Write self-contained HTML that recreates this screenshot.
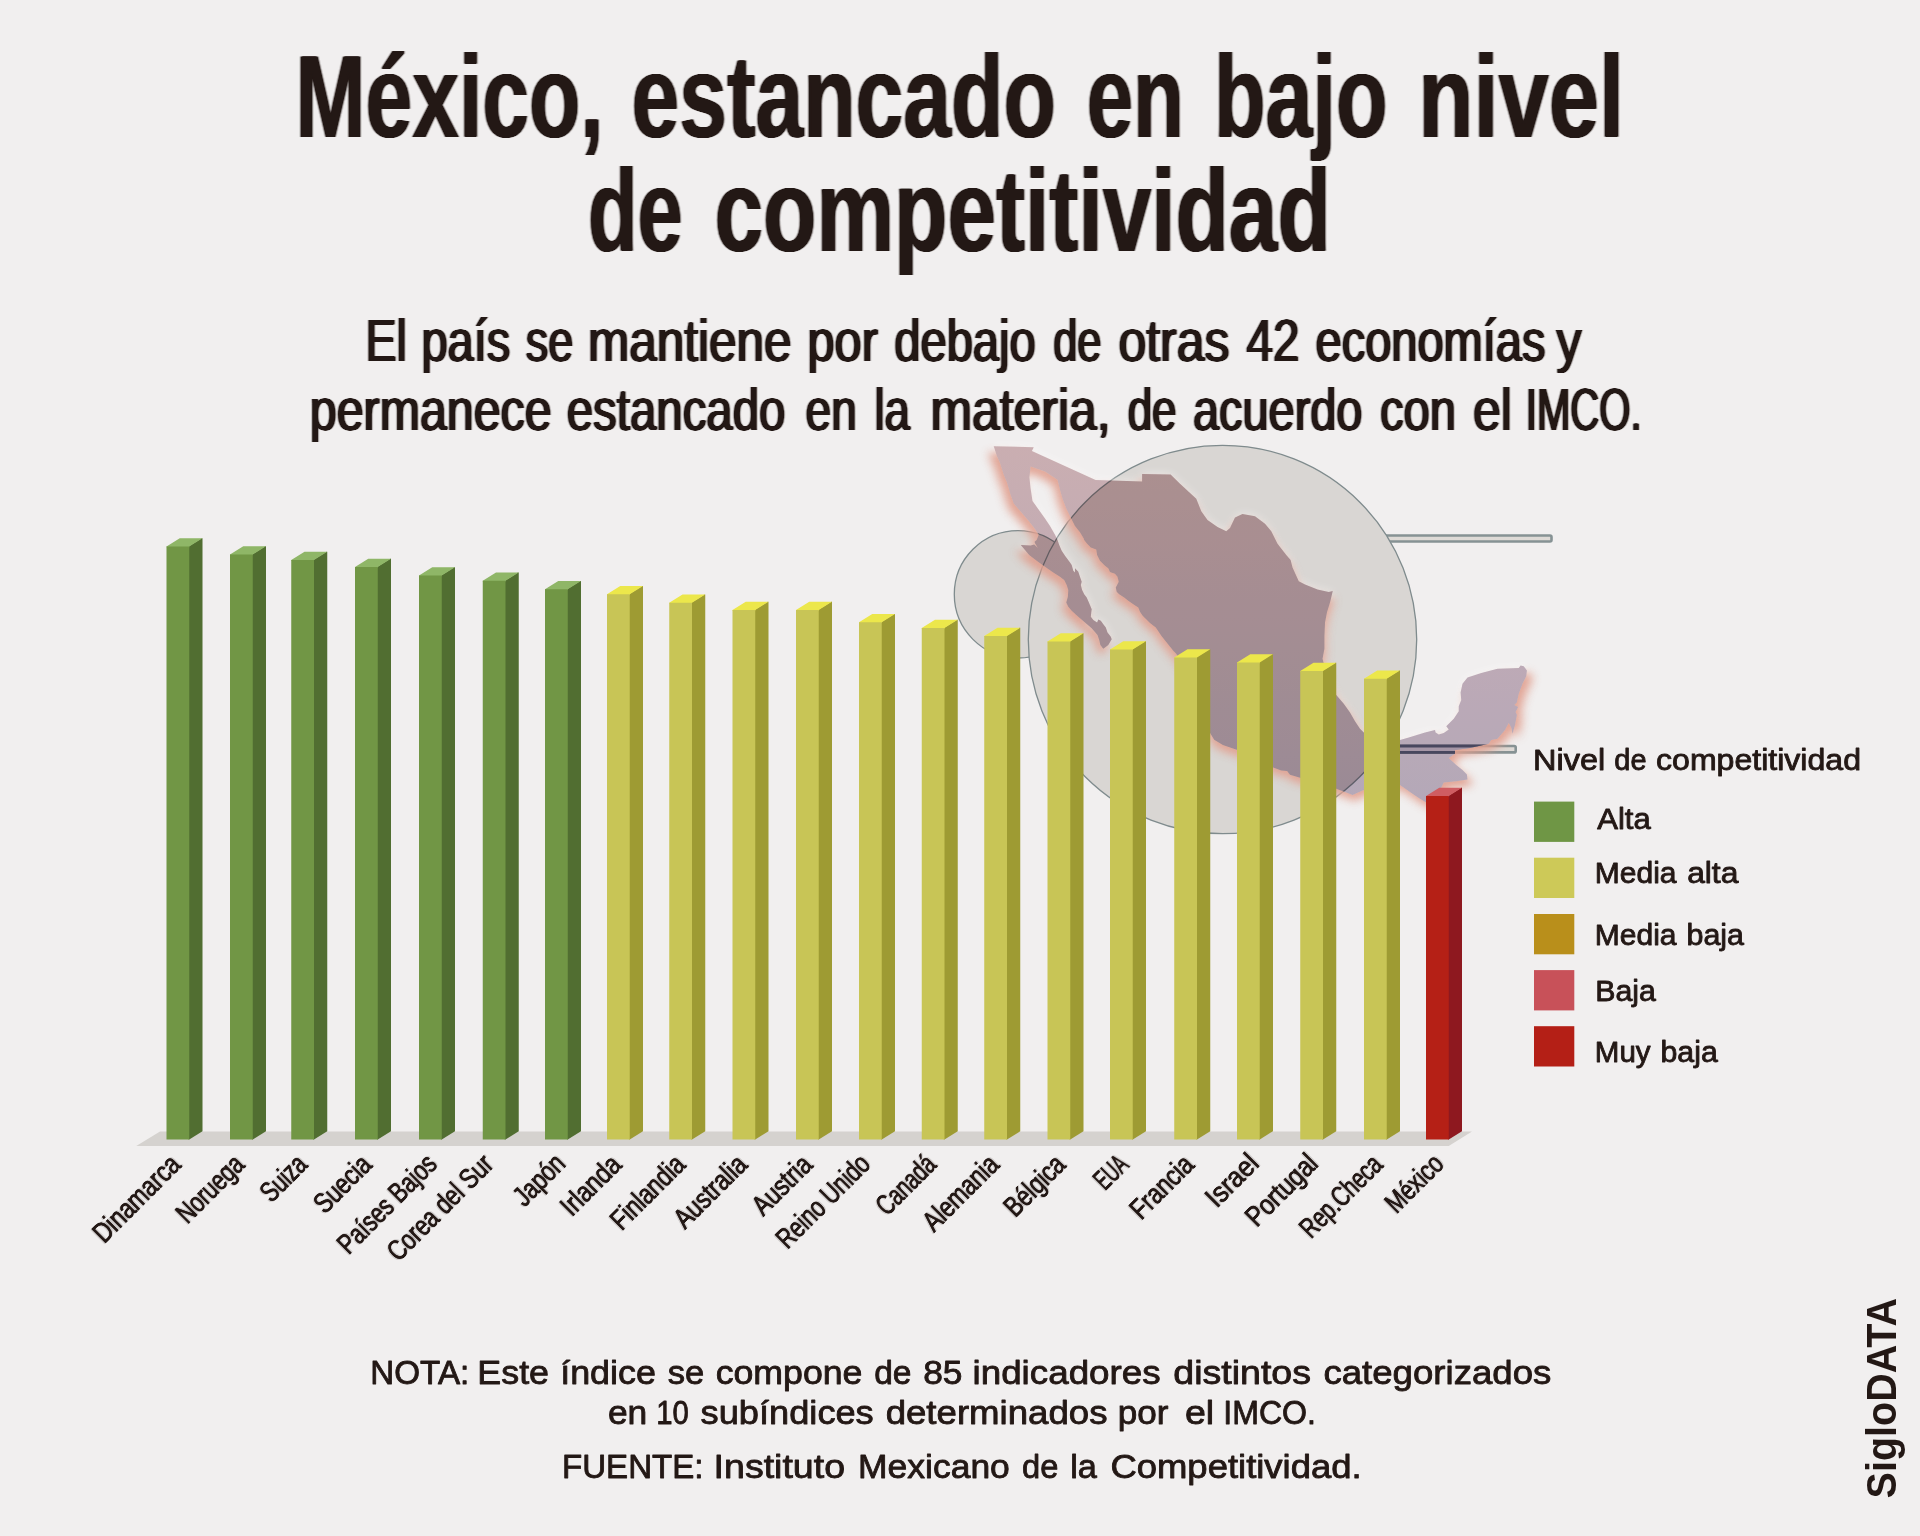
<!DOCTYPE html>
<html lang="es"><head><meta charset="utf-8"><title>México, estancado en bajo nivel de competitividad</title>
<style>
html,body{margin:0;padding:0;background:#f1efef;}
svg{display:block}
text{font-family:"Liberation Sans",sans-serif;fill:#231815;}
.t1{font-weight:bold;font-size:116.69px}
.t2{font-size:58.86px}
.t3{font-size:33.43px}
.t4{font-size:29px}
.t5{font-size:28.53px;stroke:#231815;stroke-width:0.5px}
.sk text{stroke:#231815;stroke-width:0.85px;stroke-linejoin:round}
.t6{font-weight:bold;font-size:41.83px}
</style></head><body>
<svg width="1920" height="1536" viewBox="0 0 1920 1536">
<defs>
<linearGradient id="mg" x1="0" y1="446" x2="0" y2="802" gradientUnits="userSpaceOnUse"><stop offset="0" stop-color="#d6babd"/><stop offset="1" stop-color="#bfb3c5"/></linearGradient>
<filter id="glow" x="-10%" y="-10%" width="120%" height="125%" color-interpolation-filters="sRGB"><feGaussianBlur stdDeviation="4.5"/></filter>
<filter id="glow2" x="-10%" y="-10%" width="120%" height="120%" color-interpolation-filters="sRGB"><feGaussianBlur stdDeviation="5"/></filter>
<mask id="mk" maskUnits="userSpaceOnUse" x="950" y="400" width="640" height="460"><rect x="950" y="400" width="640" height="460" fill="#fff"/><use href="#mx" fill="#000"/></mask>
<clipPath id="mc"><use href="#mx"/></clipPath>
<filter id="fat1" x="-2%" y="-20%" width="104%" height="140%" color-interpolation-filters="sRGB"><feGaussianBlur stdDeviation="1 0"/><feComponentTransfer><feFuncA type="linear" slope="1.8" intercept="0"/></feComponentTransfer></filter>
<filter id="fat2" x="-2%" y="-20%" width="104%" height="140%" color-interpolation-filters="sRGB"><feGaussianBlur stdDeviation="1 0"/><feComponentTransfer><feFuncA type="linear" slope="2.5" intercept="0"/></feComponentTransfer></filter>
<filter id="fat5" x="-2%" y="-5%" width="104%" height="110%" color-interpolation-filters="sRGB"><feConvolveMatrix in="SourceAlpha" order="3" kernelMatrix="0 0 0.17 0 1 0 0.17 0 0" divisor="1" edgeMode="none" result="a"/><feFlood flood-color="#231815"/><feComposite in2="a" operator="in"/></filter>
<clipPath id="cc"><circle cx="1018" cy="594.3" r="63.7"/><circle cx="1222.5" cy="639.5" r="194.2"/></clipPath>
<path id="mx" d="M993.75 446.25L1033.75 447.25L1031.9 451L1095.6 480L1142.1 481.6L1142.1 474.1L1170.6 474.5L1180 483.75L1196.25 498.75L1201.25 511.25L1207.5 520L1217.5 526.9L1226.25 531.25L1230 528.1L1235 517.5L1242.5 514L1255 516.25L1265 523.75L1271.25 531.25L1277.5 543.75L1286.25 555L1290.6 560L1292.5 567.5L1298.75 581.25L1305 584.4L1317.5 589.4L1328.75 591.9L1332.75 591L1330 602.5L1326.9 612.5L1325 622.5L1324.4 636.25L1324.4 648.75L1322.5 658.75L1326 672L1330 684L1336.25 695L1343.75 703.75L1350 712.5L1355 721.25L1360 728.75L1363.75 732.5L1375 740L1388 743L1400 740L1408.75 737.5L1425 732.5L1435 730L1435.6 732.5L1438.75 734.4L1443.75 733.1L1448.75 729.4L1446.25 726.25L1453.75 718.75L1458.75 711.25L1458.75 706.25L1461.25 700L1460.6 692.5L1462.5 683.75L1467.5 677.5L1481.25 673.1L1497.5 668.75L1518.75 668.1L1520.6 665.6L1523.75 666.25L1526.9 670.6L1526.25 676.25L1522.5 683.75L1518.75 693.75L1516.9 702.5L1514.4 705L1518.1 706.9L1515.6 711.9L1516.9 715L1515 725L1512.5 733.75L1511.25 727.5L1508.75 723.1L1505 730L1497.5 738.75L1491.25 740L1488.75 743.75L1470 748L1455 750L1455 753.75L1448.75 758.1L1456.25 765L1462.5 770L1466.9 774.4L1467.5 779.4L1456.25 781.25L1443.75 782.5L1441.25 787.5L1435 800L1426.25 802.5L1420 798.75L1412.5 793.75L1400 785L1382 781L1363.75 790L1352.5 795L1347.5 793.1L1336.25 788.75L1318 783L1300.2 777.7L1290 774.8L1287.1 771.1L1281.25 770.4L1273.2 767.5L1255 759L1237.5 750L1233.1 748.5L1222.9 744.9L1214.2 739.8L1209.8 732.5L1203 718L1198 702L1192 685L1185 668L1176.25 653.75L1173.3 650.8L1167.5 643.5L1161.7 636.25L1155.8 627.5L1150 623.1L1142.7 615.8L1140 611.7L1138.3 607.5L1133.3 604.2L1128.3 600.8L1124.2 597.5L1119.2 594.2L1116.7 591.7L1115.8 587.5L1118.75 581.7L1117.5 576.7L1115 573.75L1110 572.1L1108.3 568.3L1105 565.8L1100 560.8L1097.1 555L1096.25 549.6L1090.8 547.5L1086.7 543.3L1084.2 540L1083.75 538.5L1080 532.25L1075 526L1071.25 518.5L1066.25 508.5L1062.5 498.5L1060 489.75L1057.5 479.75L1050 474.75L1045 471.6L1030.6 466.6L1029.4 477.25L1030.6 488.5L1032.5 501L1038.75 509.75L1045 518.5L1050 526L1055 534.75L1057.5 540L1059.2 545L1061.7 550.8L1065 555.8L1070 562.5L1071.7 565L1073.3 570.8L1075 572.5L1075 568.3L1078.3 571.7L1079.6 575.8L1081.7 581.7L1080.8 585L1082.1 590L1084.2 594.2L1086.7 597.5L1089.2 603.3L1091.7 609.2L1091.25 612.5L1090.8 616.7L1093.3 620L1097.1 622.5L1098.3 619.6L1100.8 620.8L1103.3 624.2L1105.8 627.5L1107.5 632.5L1110.8 636.7L1111.7 639.2L1108.3 645L1103.3 648.75L1100.4 645L1099.2 640L1097.5 635L1091.7 628.3L1085 622.5L1078.3 616.7L1071.7 610.8L1068.3 606.7L1066.25 602.5L1067.9 596.7L1068.3 590L1066.7 585L1064.2 580L1060 576.7L1053.3 572.5L1045 566.7L1036.7 560.8L1029.2 555L1025 550L1020.8 545L1030.8 545.4L1034.2 544.6L1037.9 547.9L1035 543.3L1034.6 541.7L1036.7 540L1038.75 534.75L1035 529.1L1028.75 521L1021.25 512.25L1013.75 503.5L1010.6 494.75L1006.9 482.25L1003.75 474.75L1000 462.9L996.9 456Z"/>
</defs>
<rect width="1920" height="1536" fill="#f1efef"/>
<g id="deco">
<circle cx="1018" cy="594.3" r="63.7" fill="#d9d6d3" stroke="#7f8b8d" stroke-width="1.3"/>
<rect x="1385" y="535.5" width="166.5" height="6" rx="1.5" fill="#dedad6" stroke="#869294" stroke-width="2.6"/>
<rect x="1383" y="746" width="132.7" height="6.4" rx="1.5" fill="#dedad6" stroke="#869294" stroke-width="2.6"/>
<circle cx="1222.5" cy="639.5" r="194.2" fill="#d9d6d3" stroke="#7f8b8d" stroke-width="1.3"/>
</g>
<g mask="url(#mk)"><use href="#mx" fill="#fff" opacity="0.6" filter="url(#glow2)"/><use href="#mx" fill="#de9785" opacity="0.85" filter="url(#glow)" transform="translate(1262 6) scale(1.02 1) translate(-1262 0)"/></g>
<use href="#mx" fill="url(#mg)" style="mix-blend-mode:multiply"/>
<use href="#mx" fill="#f3ebea" clip-path="url(#cc)" style="mix-blend-mode:multiply"/>
<g clip-path="url(#mc)"><rect x="1383" y="746" width="132.7" height="6.4" rx="1.5" fill="#a596a6" stroke="#48475e" stroke-width="2.8"/></g>
<path fill="#d5d2cf" d="M160 1131.5H1472L1448.75 1146H136.25Z"/>
<g id="bars">
<path fill="#516e31" d="M188.45 546.5L201.7 538.25H202.5V1131.25L189.25 1139.5H188.45Z"/><path fill="#8fb667" d="M166.5 546.5L179.75 538.25H202.5L189.25 546.5V547.2H166.5Z"/><rect fill="#719645" x="166.5" y="546.5" width="22.75" height="593"/>
<path fill="#516e31" d="M251.95 554.5L265.2 546.25H266V1131.25L252.75 1139.5H251.95Z"/><path fill="#8fb667" d="M230 554.5L243.25 546.25H266L252.75 554.5V555.2H230Z"/><rect fill="#719645" x="230" y="554.5" width="22.75" height="585"/>
<path fill="#516e31" d="M313.2 560L326.45 551.75H327.25V1131.25L314 1139.5H313.2Z"/><path fill="#8fb667" d="M291.25 560L304.5 551.75H327.25L314 560V560.7H291.25Z"/><rect fill="#719645" x="291.25" y="560" width="22.75" height="579.5"/>
<path fill="#516e31" d="M376.95 567L390.2 558.75H391V1131.25L377.75 1139.5H376.95Z"/><path fill="#8fb667" d="M355 567L368.25 558.75H391L377.75 567V567.7H355Z"/><rect fill="#719645" x="355" y="567" width="22.75" height="572.5"/>
<path fill="#516e31" d="M440.95 575.5L454.2 567.25H455V1131.25L441.75 1139.5H440.95Z"/><path fill="#8fb667" d="M419 575.5L432.25 567.25H455L441.75 575.5V576.2H419Z"/><rect fill="#719645" x="419" y="575.5" width="22.75" height="564"/>
<path fill="#516e31" d="M504.7 580.75L517.95 572.5H518.75V1131.25L505.5 1139.5H504.7Z"/><path fill="#8fb667" d="M482.75 580.75L496 572.5H518.75L505.5 580.75V581.45H482.75Z"/><rect fill="#719645" x="482.75" y="580.75" width="22.75" height="558.75"/>
<path fill="#516e31" d="M566.95 589.25L580.2 581H581V1131.25L567.75 1139.5H566.95Z"/><path fill="#8fb667" d="M545 589.25L558.25 581H581L567.75 589.25V589.95H545Z"/><rect fill="#719645" x="545" y="589.25" width="22.75" height="550.25"/>
<path fill="#9e9b33" d="M628.95 594.25L642.2 586H643V1131.25L629.75 1139.5H628.95Z"/><path fill="#ece74b" d="M607 594.25L620.25 586H643L629.75 594.25V594.95H607Z"/><rect fill="#c8c556" x="607" y="594.25" width="22.75" height="545.25"/>
<path fill="#9e9b33" d="M691.2 602.75L704.45 594.5H705.25V1131.25L692 1139.5H691.2Z"/><path fill="#ece74b" d="M669.25 602.75L682.5 594.5H705.25L692 602.75V603.45H669.25Z"/><rect fill="#c8c556" x="669.25" y="602.75" width="22.75" height="536.75"/>
<path fill="#9e9b33" d="M754.45 610L767.7 601.75H768.5V1131.25L755.25 1139.5H754.45Z"/><path fill="#ece74b" d="M732.5 610L745.75 601.75H768.5L755.25 610V610.7H732.5Z"/><rect fill="#c8c556" x="732.5" y="610" width="22.75" height="529.5"/>
<path fill="#9e9b33" d="M817.95 610L831.2 601.75H832V1131.25L818.75 1139.5H817.95Z"/><path fill="#ece74b" d="M796 610L809.25 601.75H832L818.75 610V610.7H796Z"/><rect fill="#c8c556" x="796" y="610" width="22.75" height="529.5"/>
<path fill="#9e9b33" d="M880.95 622.25L894.2 614H895V1131.25L881.75 1139.5H880.95Z"/><path fill="#ece74b" d="M859 622.25L872.25 614H895L881.75 622.25V622.95H859Z"/><rect fill="#c8c556" x="859" y="622.25" width="22.75" height="517.25"/>
<path fill="#9e9b33" d="M943.7 628L956.95 619.75H957.75V1131.25L944.5 1139.5H943.7Z"/><path fill="#ece74b" d="M921.75 628L935 619.75H957.75L944.5 628V628.7H921.75Z"/><rect fill="#c8c556" x="921.75" y="628" width="22.75" height="511.5"/>
<path fill="#9e9b33" d="M1006.2 636L1019.45 627.75H1020.25V1131.25L1007 1139.5H1006.2Z"/><path fill="#ece74b" d="M984.25 636L997.5 627.75H1020.25L1007 636V636.7H984.25Z"/><rect fill="#c8c556" x="984.25" y="636" width="22.75" height="503.5"/>
<path fill="#9e9b33" d="M1069.45 641.5L1082.7 633.25H1083.5V1131.25L1070.25 1139.5H1069.45Z"/><path fill="#ece74b" d="M1047.5 641.5L1060.75 633.25H1083.5L1070.25 641.5V642.2H1047.5Z"/><rect fill="#c8c556" x="1047.5" y="641.5" width="22.75" height="498"/>
<path fill="#9e9b33" d="M1131.95 649.5L1145.2 641.25H1146V1131.25L1132.75 1139.5H1131.95Z"/><path fill="#ece74b" d="M1110 649.5L1123.25 641.25H1146L1132.75 649.5V650.2H1110Z"/><rect fill="#c8c556" x="1110" y="649.5" width="22.75" height="490"/>
<path fill="#9e9b33" d="M1196.2 657.5L1209.45 649.25H1210.25V1131.25L1197 1139.5H1196.2Z"/><path fill="#ece74b" d="M1174.25 657.5L1187.5 649.25H1210.25L1197 657.5V658.2H1174.25Z"/><rect fill="#c8c556" x="1174.25" y="657.5" width="22.75" height="482"/>
<path fill="#9e9b33" d="M1258.95 662.5L1272.2 654.25H1273V1131.25L1259.75 1139.5H1258.95Z"/><path fill="#ece74b" d="M1237 662.5L1250.25 654.25H1273L1259.75 662.5V663.2H1237Z"/><rect fill="#c8c556" x="1237" y="662.5" width="22.75" height="477"/>
<path fill="#9e9b33" d="M1322.2 671L1335.45 662.75H1336.25V1131.25L1323 1139.5H1322.2Z"/><path fill="#ece74b" d="M1300.25 671L1313.5 662.75H1336.25L1323 671V671.7H1300.25Z"/><rect fill="#c8c556" x="1300.25" y="671" width="22.75" height="468.5"/>
<path fill="#9e9b33" d="M1385.95 678.75L1399.2 670.5H1400V1131.25L1386.75 1139.5H1385.95Z"/><path fill="#ece74b" d="M1364 678.75L1377.25 670.5H1400L1386.75 678.75V679.45H1364Z"/><rect fill="#c8c556" x="1364" y="678.75" width="22.75" height="460.75"/>
<path fill="#8e181f" d="M1447.95 796L1461.2 787.75H1462V1131.25L1448.75 1139.5H1447.95Z"/><path fill="#cf5d62" d="M1426 796L1439.25 787.75H1462L1448.75 796V796.7H1426Z"/><rect fill="#b52016" x="1426" y="796" width="22.75" height="343.5"/>
</g>
<g id="legend">
<rect x="1534" y="801.6" width="40.3" height="40.3" fill="#6f9645"/>
<rect x="1534" y="857.7" width="40.3" height="40.3" fill="#cdc958"/>
<rect x="1534" y="914" width="40.3" height="40.3" fill="#b98f1b"/>
<rect x="1534" y="970.1" width="40.3" height="40.3" fill="#c85159"/>
<rect x="1534" y="1026.2" width="40.3" height="40.3" fill="#b41f16"/>
</g>
<g class="t1" filter="url(#fat1)">
<text transform="translate(295.58 136.75) scale(0.7199 1)">México,</text>
<text transform="translate(631.57 136.75) scale(0.7351 1)">estancado</text>
<text transform="translate(1086.67 136.75) scale(0.7141 1)">en</text>
<text transform="translate(1214.02 136.75) scale(0.7231 1)">bajo</text>
<text transform="translate(1418.19 136.75) scale(0.7744 1)">nivel</text>
<text transform="translate(588 250.5) scale(0.6962 1)">de</text>
<text transform="translate(714.51 250.5) scale(0.7485 1)">competitividad</text>
</g>
<g class="t2" filter="url(#fat2)">
<text transform="translate(365.4 360.5) scale(0.7920 1)">El</text>
<text transform="translate(421.44 360.5) scale(0.7996 1)">país</text>
<text transform="translate(525.76 360.5) scale(0.7632 1)">se</text>
<text transform="translate(587.91 360.5) scale(0.8415 1)">mantiene</text>
<text transform="translate(807.59 360.5) scale(0.8260 1)">por</text>
<text transform="translate(894.25 360.5) scale(0.8006 1)">debajo</text>
<text transform="translate(1053.15 360.5) scale(0.7375 1)">de</text>
<text transform="translate(1118.47 360.5) scale(0.8480 1)">otras</text>
<text transform="translate(1246.43 360.5) scale(0.8086 1)">42</text>
<text transform="translate(1315.5 360.5) scale(0.7987 1)">economías</text>
<text transform="translate(1556.52 360.5) scale(0.8480 1)">y</text>
<text transform="translate(309.86 430) scale(0.8212 1)">permanece</text>
<text transform="translate(566.74 430) scale(0.8053 1)">estancado</text>
<text transform="translate(805.54 430) scale(0.7818 1)">en</text>
<text transform="translate(874.41 430) scale(0.7776 1)">la</text>
<text transform="translate(930.4 430) scale(0.8480 1)">materia,</text>
<text transform="translate(1127.63 430) scale(0.7458 1)">de</text>
<text transform="translate(1193.01 430) scale(0.7965 1)">acuerdo</text>
<text transform="translate(1380 430) scale(0.8014 1)">con</text>
<text transform="translate(1472.91 430) scale(0.8480 1)">el</text>
<text transform="translate(1525.79 430) scale(0.6814 1)">IMCO.</text>
</g>
<g class="t4 sk">
<text transform="translate(1533.07 770.1) scale(1.1198 1)">Nivel</text>
<text transform="translate(1614.37 770.1) scale(0.9975 1)">de</text>
<text transform="translate(1656.04 770.1) scale(1.1061 1)">competitividad</text>
<text transform="translate(1597.17 828.75) scale(1.0716 1)">Alta</text>
<text transform="translate(1594.77 883.1) scale(1.0351 1)">Media</text>
<text transform="translate(1687.15 883.1) scale(1.0960 1)">alta</text>
<text transform="translate(1594.77 944.6) scale(1.0351 1)">Media</text>
<text transform="translate(1686.52 944.6) scale(1.0487 1)">baja</text>
<text transform="translate(1595.3 1000.9) scale(1.0453 1)">Baja</text>
<text transform="translate(1594.82 1061.6) scale(1.0173 1)">Muy</text>
<text transform="translate(1660.53 1061.6) scale(1.0449 1)">baja</text>
</g>
<g class="t5" filter="url(#fat5)">
<text transform="translate(104.22 1244.28) rotate(-45) scale(0.7994 1)">Dinamarca</text>
<text transform="translate(187.51 1224.69) rotate(-45) scale(0.7547 1)">Noruega</text>
<text transform="translate(271.52 1203.53) rotate(-45) scale(0.7373 1)">Suiza</text>
<text transform="translate(324.89 1214.81) rotate(-45) scale(0.7865 1)">Suecia</text>
<text transform="translate(348.69 1255.61) rotate(-45) scale(0.7632 1)">Países Bajos</text>
<text transform="translate(398.46 1262.54) rotate(-45) scale(0.7753 1)">Corea del Sur</text>
<text transform="translate(524.44 1207.76) rotate(-45) scale(0.7725 1)">Japón</text>
<text transform="translate(571.84 1217.56) rotate(-45) scale(0.8310 1)">Irlanda</text>
<text transform="translate(621.8 1231.4) rotate(-45) scale(0.7953 1)">Finlandia</text>
<text transform="translate(684.93 1230.12) rotate(-45) scale(0.8132 1)">Australia</text>
<text transform="translate(763.33 1216.97) rotate(-45) scale(0.8069 1)">Austria</text>
<text transform="translate(787.47 1250.08) rotate(-45) scale(0.7603 1)">Reino Unido</text>
<text transform="translate(887.37 1216.73) rotate(-45) scale(0.7137 1)">Canadá</text>
<text transform="translate(933.95 1232.95) rotate(-45) scale(0.7922 1)">Alemania</text>
<text transform="translate(1015.26 1218.24) rotate(-45) scale(0.7848 1)">Bélgica</text>
<text transform="translate(1105.03 1191.27) rotate(-45) scale(0.6031 1)">EUA</text>
<text transform="translate(1141.15 1220.75) rotate(-45) scale(0.8093 1)">Francia</text>
<text transform="translate(1216.82 1208.68) rotate(-45) scale(0.8835 1)">Israel</text>
<text transform="translate(1256.72 1228.08) rotate(-45) scale(0.8372 1)">Portugal</text>
<text transform="translate(1311.08 1239.42) rotate(-45) scale(0.7245 1)">Rep.Checa</text>
<text transform="translate(1396.45 1214.45) rotate(-45) scale(0.7638 1)">México</text>
</g>
<g class="t3 sk">
<text transform="translate(370.36 1383.75) scale(0.9925 1)">NOTA:</text>
<text transform="translate(477.34 1383.75) scale(1.0721 1)">Este</text>
<text transform="translate(560.17 1383.75) scale(1.0739 1)">índice</text>
<text transform="translate(667.8 1383.75) scale(1.0341 1)">se</text>
<text transform="translate(715.68 1383.75) scale(1.0673 1)">compone</text>
<text transform="translate(874.17 1383.75) scale(1.0040 1)">de</text>
<text transform="translate(923.2 1383.75) scale(1.0568 1)">85</text>
<text transform="translate(972.52 1383.75) scale(1.1010 1)">indicadores</text>
<text transform="translate(1173.31 1383.75) scale(1.1231 1)">distintos</text>
<text transform="translate(1323.44 1383.75) scale(1.0949 1)">categorizados</text>
<text transform="translate(607.89 1423.75) scale(1.0597 1)">en</text>
<text transform="translate(656.13 1423.75) scale(0.8771 1)">10</text>
<text transform="translate(700.6 1423.75) scale(1.0837 1)">subíndices</text>
<text transform="translate(885.64 1423.75) scale(1.0958 1)">determinados</text>
<text transform="translate(1117.72 1423.75) scale(1.0495 1)">por</text>
<text transform="translate(1184.88 1423.75) scale(1.1231 1)">el</text>
<text transform="translate(1223.28 1423.75) scale(0.9605 1)">IMCO.</text>
<text transform="translate(561.97 1477.5) scale(0.9903 1)">FUENTE:</text>
<text transform="translate(713.61 1477.5) scale(1.1231 1)">Instituto</text>
<text transform="translate(858.07 1477.5) scale(1.0612 1)">Mexicano</text>
<text transform="translate(1022.01 1477.5) scale(0.9777 1)">de</text>
<text transform="translate(1070.18 1477.5) scale(1.0280 1)">la</text>
<text transform="translate(1110.38 1477.5) scale(1.0911 1)">Competitividad.</text>
</g>
<text class="t6" transform="translate(1896.4 1498.39) rotate(-90) scale(0.9444 1)">SigloDATA</text>
</svg>
</body></html>
